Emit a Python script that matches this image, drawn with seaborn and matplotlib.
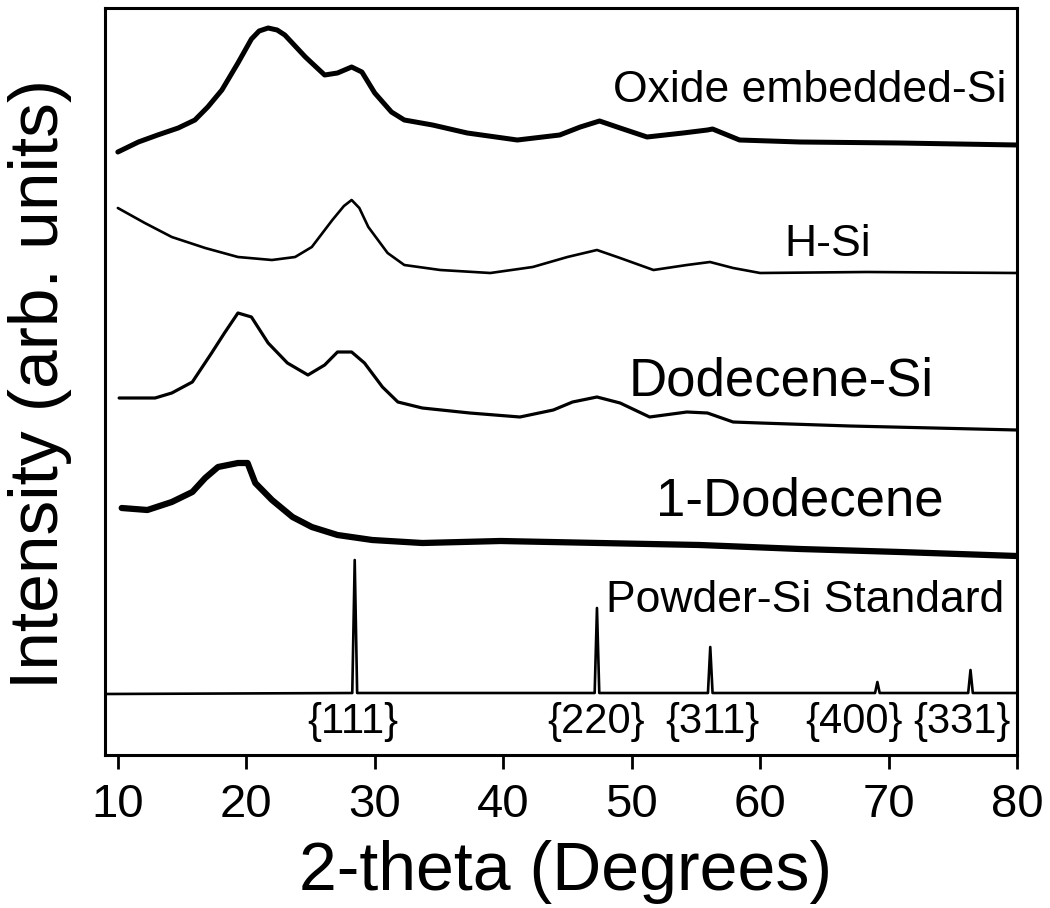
import numpy as np
import pandas as pd
import matplotlib
matplotlib.use("Agg")
import matplotlib.pyplot as plt
import seaborn as sns

# values: 2-theta (deg) and intensity (arb. units, stacked)
oxide_x = [10, 11.6, 13.1, 14.7, 16.0, 17.0, 18.1, 19.35, 20.4, 21.0, 21.7, 22.4, 23.0, 24.6,
           26.1, 27.1, 28.2, 29.0, 30.0, 31.3, 32.3, 34.5, 37.2, 41.1, 44.4, 46.0, 47.5, 49.1,
           51.2, 54.0, 55.9, 56.3, 58.4, 63.1, 70.9, 80]
oxide_y = [603, 613, 620, 627, 635, 648, 665, 692, 716, 724, 727, 725, 720, 698,
           680, 682, 688, 683, 662, 643, 635, 630, 622, 615, 620, 628, 634, 627,
           618, 622, 625, 626, 615, 613, 612, 610]

hsi_x = [10, 12.1, 14.2, 16.8, 19.35, 22.0, 23.8, 25.1, 26.7, 27.6, 28.2, 28.8, 29.5, 31.0,
         32.3, 35.1, 39.0, 42.3, 45.0, 47.3, 49.1, 51.7, 54.3, 56.1, 57.9, 60.0, 68.3, 80]
hsi_y = [547, 532, 518, 507, 498, 495, 498, 508, 535, 549, 555, 547, 528, 502,
         490, 485, 482, 488, 498, 505, 497, 485, 490, 493, 487, 482, 483, 482]

dodsi_x = [10.1, 12.9, 14.2, 15.8, 17.3, 18.3, 19.35, 20.4, 21.7, 23.2, 24.8, 26.1, 27.1, 28.2,
           29.2, 30.6, 31.8, 33.7, 37.4, 41.3, 43.9, 45.4, 47.3, 49.1, 51.4, 54.3, 55.9, 57.9,
           60.0, 67.0, 80]
dodsi_y = [357, 357, 362, 373, 402, 422, 442, 438, 412, 392, 380, 390, 403, 403,
           392, 368, 353, 347, 342, 338, 345, 353, 358, 352, 338, 343, 342, 333,
           332, 329, 325]

dod_x = [10.3, 12.3, 14.2, 15.8, 16.8, 17.8, 19.35, 20.1, 20.7, 22.0, 23.6, 25.1, 27.1, 29.8,
         33.7, 39.8, 47.5, 55.3, 63.1, 70.9, 80]
dod_y = [247, 245, 253, 263, 277, 288, 292, 292, 272, 255, 238, 228, 220, 215,
         212, 214, 212, 210, 206, 203, 199]

powder_x = [9, 28.25, 28.44, 28.63, 47.12, 47.30, 47.48, 55.94, 56.12, 56.30,
            68.95, 69.13, 69.31, 76.2, 76.38, 76.56, 80]
powder_y = [61, 62, 195, 62, 62, 147, 62, 62, 108, 62, 62, 73, 62, 62, 85, 62, 62]

trace_names = ["Oxide embedded-Si", "H-Si", "Dodecene-Si", "1-Dodecene", "Powder-Si Standard"]
# label anchor (right edge in 2-theta, centre height)
label_x = [79.15, 68.6, 73.5, 74.3, 79.0]
label_y = [665, 511, 373, 253, 155]
label_size = [32, 32, 38, 38, 32]

hkl_labels = ["{111}", "{220}", "{311}", "{400}", "{331}"]
hkl_x = [28.3, 47.2, 56.3, 67.3, 75.7]

traces = [(oxide_x, oxide_y, 3.6), (hsi_x, hsi_y, 1.9), (dodsi_x, dodsi_y, 2.3),
          (dod_x, dod_y, 4.5), (powder_x, powder_y, 1.9)]

sns.set_theme(style="ticks")
plt.rcParams["font.family"] = ["Liberation Sans", "DejaVu Sans"]

fig = plt.figure(figsize=(10.5, 9.08), dpi=100)
ax = fig.add_axes([105 / 1050, (908 - 755) / 908, (1017 - 105) / 1050, (755 - 8) / 908])

for (xs, ys, lw), name in zip(traces, trace_names):
    d = pd.DataFrame({"theta": xs, "I": ys})
    sns.lineplot(data=d, x="theta", y="I", ax=ax, color="black", lw=lw,
                 sort=False, estimator=None)

for name, lx, ly, fs in zip(trace_names, label_x, label_y, label_size):
    ax.text(lx, ly, name, ha="right", va="center", fontsize=fs, color="black")

for lab, hx in zip(hkl_labels, hkl_x):
    ax.text(hx, 33, lab, ha="center", va="center", fontsize=30, color="black", clip_on=False)

ax.set_xlim(9, 80)
ax.set_ylim(0, 747)
ax.set_xticks(np.arange(10, 81, 10))
ax.set_yticks([])
ax.tick_params(axis="x", direction="out", length=10, width=2, labelsize=34, pad=10,
               color="black", labelcolor="black")
for s in ax.spines.values():
    s.set_linewidth(2.2)
    s.set_color("black")

ax.set_xlabel("2-theta (Degrees)", fontsize=49, color="black", va="center")
ax.set_ylabel("Intensity (arb. units)", fontsize=50, color="black", va="center")
ax.xaxis.set_label_coords(0.505, -0.156)
ax.yaxis.set_label_coords(-0.0713, 0.497)

fig.savefig("out.png", dpi=100)
